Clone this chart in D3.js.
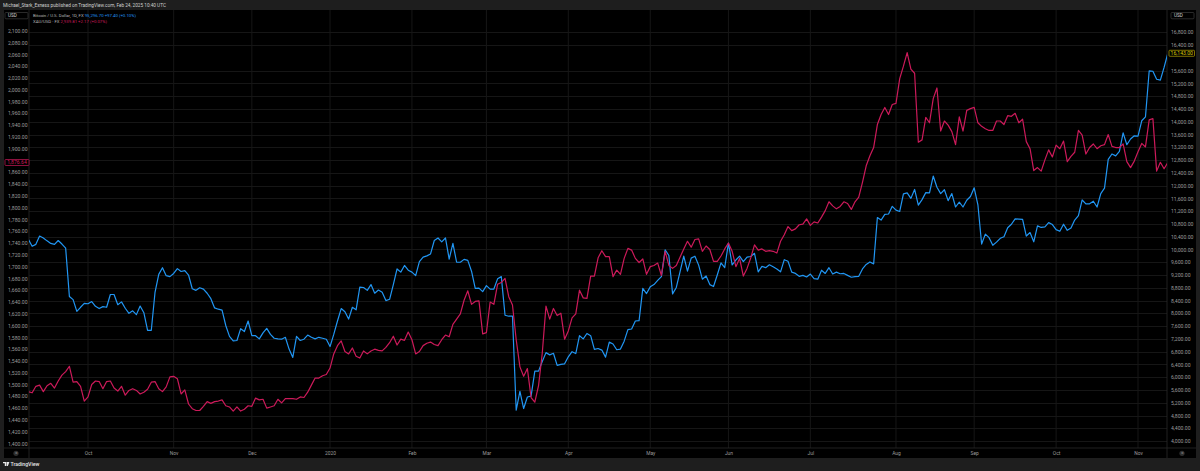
<!DOCTYPE html>
<html><head><meta charset="utf-8">
<script src="https://cdn.jsdelivr.net/npm/d3@7"></script>
<style>
html,body{margin:0;padding:0;background:#1e1e1e;}
svg{display:block;font-family:Roboto,"Liberation Sans",Arial,sans-serif;}
</style>
</head><body>
<svg id="c" width="1200" height="471"></svg>
<script>
// ---------------- DATA ----------------
const startDate = "2019-09-09";
const endDate = "2020-11-12";
const holidays = ["2019-12-25", "2020-01-01"];
const monthLabels = ["Oct","Nov","Dec","2020","Feb","Mar","Apr","May","Jun","Jul","Aug","Sep","Oct","Nov"];
const goldTicks = [1400,1420,1440,1460,1480,1500,1520,1540,1560,1580,1600,1620,1640,1660,1680,1700,1720,1740,1760,1780,1800,1820,1840,1860,1880,1900,1920,1940,1960,1980,2000,2020,2040,2060,2080,2100];
const btcTicks = [4000,4400,4800,5200,5600,6000,6400,6800,7200,7600,8000,8400,8800,9200,9600,10000,10400,10800,11200,11600,12000,12400,12800,13200,13600,14000,14400,14800,15200,15600,16400,16800];
const btcClose = [
  // Sep 2019
  10310,10100,10160,10420,10360, 10270,10190,10160,10280,10170, 10040,8530,8430,8060,8190, 8310,
  // Oct 2019
  8300,8370,8220,8150, 8210,8190,8590,8590,8270, 8360,8160,8000,8080,7960, 8230,8020,7470,7470,8660, 9220,9430,9180,9150,
  // Nov 2019
  9250, 9400,9310,9340,9200,8770, 8720,8800,8760,8630,8460, 8170,8130,8100,7620,7280, 7140,7150,7520,7430,7760,
  // Dec 2019
  7300,7300,7200,7390,7530, 7340,7220,7200,7190,7250, 6880,6620,7280,7150,7190, 7320,7250, 7200,7250, 7220,7190,
  // Jan 2020
  6960,7340, 7760,8150,8050,7820,8190, 8110,8820,8810,8720,8900, 8630,8730,8660,8400,8440, 8900,9390,9290,9500,9350,
  // Feb 2020
  9290,9180,9620,9760,9800, 9860,10280,10360,10240,10360, 9700,10190,9600,9600,9690, 9660,9320,8780,8790,8680,
  // Mar 2020
  8870,8760,8760,9080,9150, 7940,7910,7910,4970,5560, 5020,5380,5410,6190,6190, 6490,6770,6700,6750,6370, 6400,6420,
  // Apr 2020
  6640,6800,6740, 7300,7200,7370,7300,6870, 6900,6850,6630,7100,7040, 6860,6880,7130,7490,7510, 7760,7770,8780,8620,
  // May 2020
  8830, 8900,9030,9150,9990,9810, 8610,8810,9300,9790,9320, 9730,9790,9510,9070,9170, 8900,8840,9200,9580,9430,
  // Jun 2020
  10200,9520,9670,9790,9620, 9760,9780,9880,9300,9470, 9430,9520,9460,9390,9300, 9680,9630,9290,9250,9160, 9190,9140,
  // Jul 2020
  9230,9090,9070, 9350,9250,9430,9230,9290, 9240,9250,9190,9130,9150, 9160,9390,9530,9610,9550, 11000,10920,11100,11110,11350,
  // Aug 2020
  11230,11190,11740,11770,11600, 11880,11390,11560,11780,11770, 12300,11950,11750,11870,11530, 11750,11330,11480,11330,11540, 11660,
  // Sep 2020
  11930,11400,10170,10480, 10370,10130,10230,10350,10400, 10680,10790,10960,10950,10940, 10420,10530,10240,10740,10690, 10710,10840,10780,
  // Oct 2020
  10620,10570, 10790,10600,10670,10920,11060, 11550,11430,11430,11510,11330, 11750,11920,12820,12990,12930, 13070,13650,13280,13460,13560,
  // Nov 2020
  13550,14030,14150,15590,15580, 15330,15300,15700,16143
];
const goldClose = [
  // Sep 2019
  1488,1486,1497,1499,1488, 1498,1502,1494,1506,1516, 1522,1531,1504,1505,1497, 1472,
  // Oct 2019
  1479,1500,1506,1505, 1493,1505,1506,1494,1489, 1497,1482,1490,1493,1490, 1484,1487,1492,1504,1505, 1493,1488,1496,1513,
  // Nov 2019
  1514, 1510,1484,1491,1467,1459, 1456,1456,1463,1471,1468, 1471,1472,1474,1464,1462, 1455,1462,1455,1458,1464,
  // Dec 2019
  1463,1477,1474,1475,1460, 1462,1464,1475,1469,1476, 1476,1476,1475,1479,1478, 1487,1499, 1511,1511, 1515,1517,
  // Jan 2020
  1528,1552, 1566,1574,1556,1552,1562, 1548,1545,1557,1552,1557, 1560,1558,1557,1563,1571, 1582,1567,1577,1575,1589,
  // Feb 2020
  1576,1552,1556,1566,1570, 1572,1568,1566,1576,1584, 1581,1602,1611,1620,1643, 1659,1636,1641,1642,1586,
  // Mar 2020
  1588,1640,1636,1670,1673, 1680,1649,1635,1576,1530, 1514,1527,1478,1470,1498, 1553,1633,1611,1629,1617, 1621,1577,
  // Apr 2020
  1591,1613,1620, 1660,1647,1646,1684,1684, 1715,1727,1717,1717,1683, 1694,1687,1714,1731,1728, 1714,1707,1713,1687,
  // May 2020
  1700, 1702,1706,1685,1726,1702, 1697,1702,1716,1730,1743, 1733,1746,1747,1726,1735, 1729,1709,1709,1718,1730,
  // Jun 2020
  1740,1726,1700,1714,1684, 1697,1715,1737,1728,1730, 1726,1727,1726,1723,1743, 1754,1768,1761,1764,1771, 1772,1781,
  // Jul 2020
  1770,1776,1774, 1784,1795,1810,1803,1798, 1802,1810,1807,1797,1810, 1818,1843,1871,1888,1902, 1941,1958,1970,1958,1975,
  // Aug 2020
  1977,2019,2040,2063,2035, 2028,1911,1915,1953,1944, 1985,2003,1930,1947,1940, 1929,1907,1954,1930,1965, 1968,
  // Sep 2020
  1970,1944,1938,1934, 1931,1931,1947,1947,1941, 1956,1955,1960,1944,1950, 1912,1900,1863,1868,1862, 1881,1898,1886,
  // Oct 2020
  1906,1900, 1913,1878,1887,1894,1931, 1923,1891,1902,1908,1900, 1905,1907,1924,1904,1902, 1902,1908,1878,1868,1879,
  // Nov 2020
  1895,1909,1903,1949,1951, 1862,1877,1866,1876.64
];
const titleText = "Michael_Stark_Exness published on TradingView.com, Feb 24, 2025 10:40 UTC";
const legendBtc = ["Bitcoin / U.S. Dollar, 1D, FX", "95,296.70", "+97.40", "(+0.10%)"];
const legendGold = ["XAU/USD · FX", "2,939.81", "+2.17", "(+0.07%)"];

// ---------------- LAYOUT ----------------
const W = 1200, H = 471;
const panel = {x0: 4, x1: 1196, y0: 10, y1: 458};
const plot = {x0: 29, x1: 1167, y0: 10, y1: 448};
const BLUE = "#2196f3", RED = "#cc1a5a";
const AXIS_TXT = "#9b9b9b", GRID = "#161616", SEP = "#2a2a2a";

// trading days
const parse = d3.utcParse("%Y-%m-%d"), fmt = d3.utcFormat("%Y-%m-%d");
const hol = new Set(holidays);
const dates = d3.utcDays(parse(startDate), d3.utcDay.offset(parse(endDate), 1))
  .filter(d => d.getUTCDay() !== 0 && d.getUTCDay() !== 6 && !hol.has(fmt(d)));

const x = d3.scalePoint().domain(dates.map(fmt)).range([28.43, 1167.8]);
const yGold = d3.scaleLinear().domain([1400, 2100]).range([443.5, 30.8]);
const yBtc = d3.scaleLinear().domain([4000, 16800]).range([441.1, 32.3]);

const svg = d3.select("#c");
svg.append("rect").attr("width", W).attr("height", H).attr("fill", "#1e1e1e");
svg.append("rect").attr("x", panel.x0).attr("y", panel.y0).attr("width", panel.x1 - panel.x0)
  .attr("height", panel.y1 - panel.y0).attr("fill", "#000");

// title
svg.append("text").attr("x", 3).attr("y", 7).attr("fill", "#cfcfcf").attr("font-size", 4.7).text(titleText);

// month ticks
const monthStarts = [];
for (let i = 1; i < dates.length; i++) {
  if (dates[i].getUTCMonth() !== dates[i - 1].getUTCMonth()) monthStarts.push(fmt(dates[i]));
}
const gGrid = svg.append("g");
gGrid.selectAll("line.v").data(monthStarts).join("line")
  .attr("x1", d => x(d)).attr("x2", d => x(d)).attr("y1", plot.y0).attr("y2", plot.y1)
  .attr("stroke", GRID).attr("stroke-width", 1);
gGrid.selectAll("line.h").data(btcTicks).join("line")
  .attr("x1", plot.x0).attr("x2", plot.x1).attr("y1", d => Math.round(yBtc(d)) + 0.5).attr("y2", d => Math.round(yBtc(d)) + 0.5)
  .attr("stroke", GRID).attr("stroke-width", 1);

// separators
const sep = svg.append("g").attr("stroke", SEP).attr("stroke-width", 0.8);
sep.append("line").attr("x1", plot.x0).attr("x2", plot.x0).attr("y1", panel.y0).attr("y2", panel.y1);
sep.append("line").attr("x1", plot.x1).attr("x2", plot.x1).attr("y1", panel.y0).attr("y2", panel.y1);
sep.append("line").attr("x1", panel.x0).attr("x2", panel.x1).attr("y1", plot.y1).attr("y2", plot.y1);

// clip
svg.append("clipPath").attr("id", "clip").append("rect")
  .attr("x", plot.x0).attr("y", plot.y0).attr("width", plot.x1 - plot.x0).attr("height", plot.y1 - plot.y0);

const lineG = d3.line().x((d, i) => x(fmt(dates[i]))).y(d => yGold(d));
const lineB = d3.line().x((d, i) => x(fmt(dates[i]))).y(d => yBtc(d));
const lines = svg.append("g").attr("clip-path", "url(#clip)");
lines.append("path").datum(btcClose).attr("d", lineB).attr("fill", "none").attr("stroke", BLUE).attr("stroke-width", 1.2).attr("stroke-linejoin", "round");
lines.append("path").datum(goldClose).attr("d", lineG).attr("fill", "none").attr("stroke", RED).attr("stroke-width", 1.2).attr("stroke-linejoin", "round");

// left axis (gold)
const lastGold = goldClose[goldClose.length - 1];
const lastBtc = btcClose[btcClose.length - 1];
const nf = d3.format(",.2f");
const leftAxis = d3.axisLeft(yGold).tickValues(goldTicks.filter(v => Math.abs(yGold(v) - yGold(lastGold)) > 4)).tickFormat(nf).tickSize(0).tickPadding(0);
const gl = svg.append("g").attr("transform", `translate(27.5,0)`).call(leftAxis);
gl.select(".domain").remove();
gl.selectAll("text").attr("fill", AXIS_TXT).attr("font-size", 5.1).attr("font-family", "Roboto,sans-serif");

const rightAxis = d3.axisRight(yBtc).tickValues(btcTicks).tickFormat(nf).tickSize(0).tickPadding(0);
const gr = svg.append("g").attr("transform", `translate(1171,0)`).call(rightAxis);
gr.select(".domain").remove();
gr.selectAll("text").attr("fill", AXIS_TXT).attr("font-size", 5.1).attr("font-family", "Roboto,sans-serif");

// bottom axis
const bottomAxis = d3.axisBottom(x).tickValues(monthStarts).tickFormat((d, i) => monthLabels[i]).tickSize(0).tickPadding(0);
const gb = svg.append("g").attr("transform", `translate(0,451.5)`).call(bottomAxis);
gb.select(".domain").remove();
gb.selectAll("text").attr("fill", AXIS_TXT).attr("font-size", 4.9).attr("font-family", "Roboto,sans-serif");

// price labels
function priceLabel(xp, w, yv, txt, col, txtCol) {
  const g = svg.append("g");
  g.append("rect").attr("x", xp).attr("y", yv - 3).attr("width", w).attr("height", 6)
    .attr("fill", "#000").attr("stroke", col).attr("stroke-width", 0.7).attr("rx", 0.8);
  g.append("text").attr("x", xp + w / 2).attr("y", yv).attr("dy", "0.35em").attr("text-anchor", "middle")
    .attr("fill", txtCol).attr("font-size", 5.1).text(txt);
}
priceLabel(5, 24, yGold(lastGold), nf(lastGold), RED, RED);
priceLabel(1169, 25.5, yBtc(lastBtc), nf(lastBtc), "#b5a300", "#d8c800");

// USD boxes
function usdBox(xp, w) {
  svg.append("rect").attr("x", xp).attr("y", 12.5).attr("width", w).attr("height", 6.3)
    .attr("fill", "#000").attr("stroke", "#3c3c3c").attr("stroke-width", 0.7).attr("rx", 1);
  svg.append("text").attr("x", xp + 3).attr("y", 15.65).attr("dy", "0.35em").attr("fill", "#d0d0d0")
    .attr("font-size", 4.7).text("USD");
}
usdBox(5, 23);
usdBox(1171, 23);

// legend
function legend(y, parts, col) {
  const t = svg.append("text").attr("x", 33).attr("y", y).attr("dy", "0.35em").attr("font-size", 4.3);
  t.append("tspan").attr("fill", "#b8b8b8").text(parts[0] + "  ");
  t.append("tspan").attr("fill", col).text(parts[1] + "  " + parts[2] + " " + parts[3]);
}
legend(15.3, legendBtc, BLUE);
legend(21.3, legendGold, RED);

// corner icons
[16, 1182].forEach(cx => {
  svg.append("circle").attr("cx", cx).attr("cy", 453.3).attr("r", 2.6).attr("fill", "#2e2e2e");
  svg.append("text").attr("x", cx).attr("y", 453.3).attr("dy", "0.35em").attr("text-anchor", "middle")
    .attr("fill", "#9a9a9a").attr("font-size", 3.4).text("⚙");
});

// footer logo
const logo = svg.append("g").attr("transform", "translate(3,462)");
logo.append("path").attr("d", "M0,0 H3.2 V4 H1.8 V1.2 H0 Z M3.6,0 H6.4 L4.9,4 H3.7 Z").attr("fill", "#e8e8e8");
svg.append("text").attr("x", 10.5).attr("y", 464.2).attr("dy", "0.35em").attr("fill", "#e8e8e8")
  .attr("font-size", 5.2).attr("font-weight", 500).text("TradingView");
</script>
</body></html>
